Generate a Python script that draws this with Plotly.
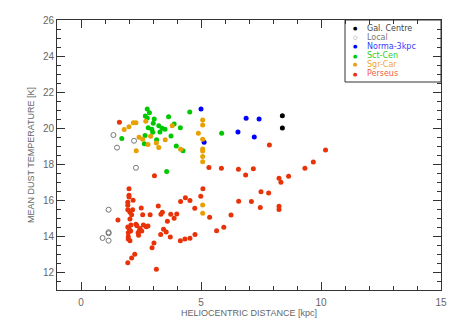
import plotly.graph_objects as go

# ---- data (heliocentric distance [kpc], mean dust temperature [K]) ----
gc_x = [8.39, 8.39]
gc_y = [20.68, 20.00]

local_x = [1.35, 2.21, 1.50, 2.29, 1.15, 1.15, 1.15, 0.90, 1.15]
local_y = [19.61, 19.29, 18.91, 17.79, 15.46, 14.21, 14.15, 13.89, 13.74]

norma_x = [5.00, 6.88, 7.42, 6.54, 7.22, 5.13]
norma_y = [21.06, 20.54, 20.50, 19.78, 19.50, 19.21]

sct_x = [2.76, 2.85, 2.68, 2.76, 3.05, 3.65, 4.53, 3.01, 3.24, 2.80, 2.95, 3.38, 3.50,
         3.88, 4.14, 2.99, 3.29, 2.67, 1.70, 3.75, 3.15, 2.64, 3.97, 4.25, 5.86, 3.57]
sct_y = [21.06, 20.85, 20.67, 20.56, 20.50, 20.63, 20.89, 20.26, 20.13, 20.02, 19.93, 19.98, 19.93,
         20.22, 20.02, 19.76, 19.78, 19.59, 19.41, 19.56, 19.35, 19.13, 19.00, 18.74, 19.71, 17.59]

sgr_x = [2.18, 2.29, 2.70, 2.00, 1.80, 2.90, 2.42, 2.57, 3.51, 3.14, 2.79, 3.24, 2.30,
         3.80, 5.07, 5.07, 4.89, 5.07, 4.15, 5.07, 5.07, 5.07, 5.07, 5.07, 5.07]
sgr_y = [20.29, 20.29, 20.37, 20.07, 19.91, 19.54, 19.48, 19.37, 19.35, 19.17, 19.09, 18.91, 18.74,
         20.13, 20.44, 20.17, 19.71, 19.37, 18.82, 18.83, 18.72, 18.41, 18.13, 15.72, 15.26]

per_x = [1.60, 3.06, 5.33, 5.85, 6.56, 7.18, 9.33, 6.86, 8.25, 8.65, 8.33, 7.85, 10.19, 9.68,
         5.08, 4.99, 7.50, 7.82, 4.54, 6.57, 7.10, 7.47, 8.25, 8.25, 4.74, 4.35, 4.15, 6.25,
         5.36, 5.95, 5.65, 4.75, 4.54, 4.33, 4.14, 3.74, 3.99, 3.88, 3.60, 3.22, 3.39, 3.33,
         2.88, 2.57, 2.51, 3.44, 3.55, 3.32, 3.72, 3.04, 2.96, 3.14, 2.00, 2.00, 2.00, 2.17,
         1.95, 1.95, 1.95, 2.15, 2.04, 2.11, 2.04, 1.54, 2.08, 2.29, 2.33, 1.95, 2.60, 2.72,
         2.79, 2.01, 2.07, 2.46, 2.43, 2.53, 1.97, 2.38, 1.97, 1.97, 2.04, 2.40, 2.24, 2.11, 1.95]
per_y = [20.32, 17.35, 17.81, 17.76, 17.71, 17.74, 17.76, 17.39, 17.21, 17.32, 16.98, 19.06, 18.78, 18.11,
         16.63, 16.21, 16.46, 16.39, 15.97, 15.93, 15.91, 15.59, 15.65, 15.47, 15.54, 16.13, 15.91, 15.17,
         15.04, 14.48, 14.29, 14.09, 13.87, 13.83, 13.74, 15.21, 15.22, 14.98, 14.82, 15.67, 15.32, 15.21,
         15.18, 15.18, 15.56, 14.38, 14.22, 14.09, 13.94, 13.61, 13.35, 12.15, 16.63, 16.26, 16.17, 15.98,
         15.87, 15.71, 15.46, 15.46, 15.32, 15.18, 14.94, 14.89, 14.61, 14.65, 14.57, 14.50, 14.61, 14.52,
         14.56, 14.39, 14.28, 14.41, 14.29, 14.28, 14.18, 14.18, 13.96, 13.83, 13.74, 14.04, 12.98, 12.78, 12.52]

series_names = ["Gal. Centre", "Local", "Norma-3kpc", "Sct-Cen", "Sgr-Car", "Perseus"]
series_x = [gc_x, local_x, norma_x, sct_x, sgr_x, per_x]
series_y = [gc_y, local_y, norma_y, sct_y, sgr_y, per_y]

x_range = [-1, 15]
y_range = [11, 26]
x_ticks = [0, 5, 10, 15]
y_ticks = [12, 14, 16, 18, 20, 22, 24, 26]

# ---- styles ----
colors = ["#000000", "#777777", "#0000ff", "#00c800", "#e8a000", "#e83208"]
text_colors = ["#444444", "#777777", "#3a3aff", "#2ecc2e", "#f0a830", "#f06040"]
symbols = ["circle", "circle-open", "circle", "circle", "circle", "circle"]

fig = go.Figure()
for name, xs, ys, c, s in zip(series_names, series_x, series_y, colors, symbols):
    marker = dict(color=c, size=5, symbol=s)
    if s == "circle-open":
        marker["line"] = dict(color=c, width=1)
    else:
        marker["line"] = dict(width=0)
    fig.add_trace(go.Scatter(x=xs, y=ys, mode="markers", name=name, marker=marker,
                             showlegend=False))

axis_common = dict(
    showgrid=False, zeroline=False, showline=True, linecolor="#333333", linewidth=1,
    mirror="ticks", ticks="inside", ticklen=8, tickcolor="#333333", tickwidth=1,
    automargin=False,
    tickfont=dict(family="Liberation Sans", size=10, color="#666666"),
)
fig.update_xaxes(range=x_range, tickvals=x_ticks, ticklabelstandoff=3,
                 minor=dict(dtick=1, ticklen=4, ticks="inside", tickcolor="#333333"),
                 title=dict(text="HELIOCENTRIC DISTANCE [kpc]",
                            font=dict(family="Liberation Sans", size=9, color="#666666"),
                            standoff=0),
                 **axis_common)
fig.update_yaxes(range=y_range, tickvals=y_ticks,
                 minor=dict(dtick=0.5, ticklen=4, ticks="inside", tickcolor="#333333"),
                 title=dict(text="MEAN DUST TEMPERATURE [K]",
                            font=dict(family="Liberation Sans", size=9, color="#666666"),
                            standoff=6),
                 **axis_common)

# ---- manual compact legend (box + entries); page pixel -> paper coords ----
px_left, px_w, px_top, px_h = 57, 384, 20, 270
def xp(px):
    return (px - px_left) / px_w
def yp(py):
    return 1 - (py - px_top) / px_h

fig.add_shape(type="rect", xref="paper", yref="paper",
              x0=xp(345), x1=1, y0=yp(82), y1=1,
              line=dict(color="#333333", width=1), fillcolor="white", layer="below")
for i, (name, c, tc, s) in enumerate(zip(series_names, colors, text_colors, symbols)):
    ypos = yp(28.5 + 9 * i)
    sym = "○" if s == "circle-open" else "●"
    fig.add_annotation(xref="paper", yref="paper", x=xp(355), y=ypos, text=sym,
                       showarrow=False, xanchor="center", yanchor="middle", borderpad=0,
                       font=dict(family="DejaVu Sans", size=5, color=c))
    fig.add_annotation(xref="paper", yref="paper", x=xp(366), y=ypos, text=name,
                       showarrow=False, xanchor="left", yanchor="middle", borderpad=0,
                       font=dict(family="DejaVu Sans", size=8, color=tc))

# page body has an 8px margin: size/margins chosen so the plot area lands at
# page x 57..441, y 20..290
fig.update_layout(
    width=450, height=319,
    margin=dict(l=49, r=17, t=12, b=37),
    paper_bgcolor="white", plot_bgcolor="white",
    showlegend=False,
)

fig.write_html("out.html")
